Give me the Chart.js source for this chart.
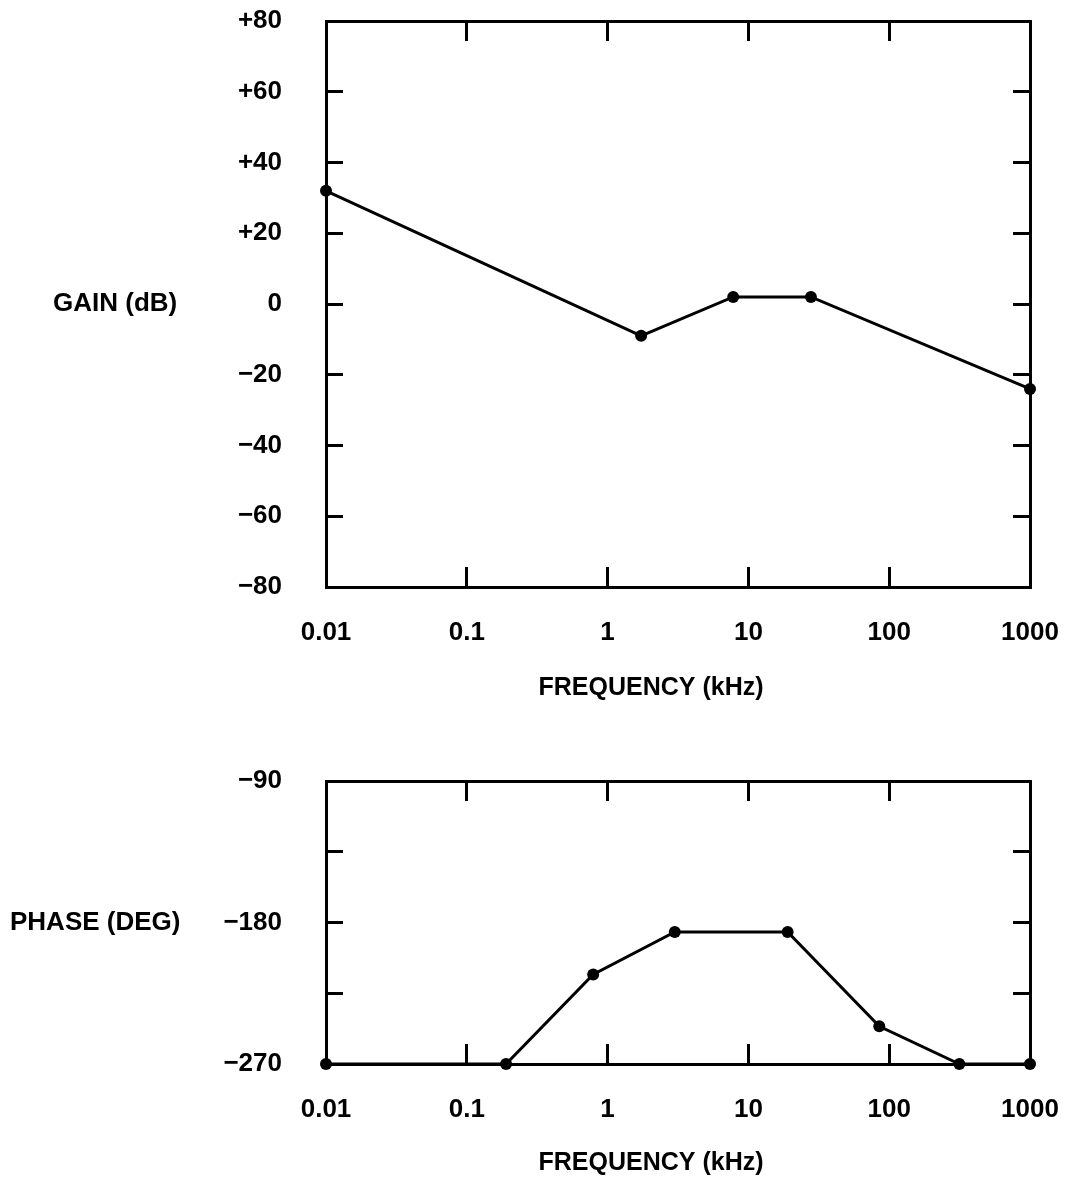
<!DOCTYPE html>
<html>
<head>
<meta charset="utf-8">
<script src="https://cdn.jsdelivr.net/npm/chart.js@4/dist/chart.umd.min.js"></script>
<style>
  html, body { margin: 0; padding: 0; background: #fff; }
  #wrap { position: relative; width: 1077px; height: 1183px; background: #fff; }
  canvas { position: absolute; left: 0; }
  #gainCanvas { top: 0; }
  #phaseCanvas { top: 720px; }
</style>
</head>
<body>
<div id="wrap">
  <canvas id="gainCanvas" width="1077" height="720"></canvas>
  <canvas id="phaseCanvas" width="1077" height="463"></canvas>
</div>
<script>
// Frequency axis (kHz, log decades)
const freqTickValues = [0.01, 0.1, 1, 10, 100, 1000];
const freqTickLabels = ['0.01', '0.1', '1', '10', '100', '1000'];

// Gain response
const gainFreq = [0.01, 1.73, 7.8, 27.8, 1000];
const gainDb = [32, -9, 2, 2, -24];
const gainTickValues = [-80, -60, -40, -20, 0, 20, 40, 60, 80];
const gainTickLabels = ['\u221280', '\u221260', '\u221240', '\u221220', '0', '+20', '+40', '+60', '+80'];

// Phase response
const phaseFreq = [0.01, 0.19, 0.79, 3.0, 19, 85, 315, 1000];
const phaseDeg = [-270, -270, -213, -186, -186, -246, -270, -270];
const phaseTickValues = [-270, -225, -180, -135, -90];
const phaseTickLabels = ['\u2212270', '', '\u2212180', '', '\u221290'];

const FONT = '"Liberation Sans", Arial, Helvetica, sans-serif';
const INK = '#000';

// Horizontal y title on the left and x title under the tick labels
const axisTitles = {
  id: 'axisTitles',
  afterDraw(chart, args, opts) {
    const { ctx, chartArea } = chart;
    ctx.save();
    ctx.fillStyle = INK;
    ctx.textBaseline = 'middle';
    ctx.font = 'bold 26px ' + FONT;
    ctx.textAlign = 'left';
    ctx.fillText(opts.yText, opts.yLeft, (chartArea.top + chartArea.bottom) / 2);
    ctx.font = 'bold 25px ' + FONT;
    ctx.textAlign = 'center';
    ctx.fillText(opts.xText, opts.xCenter, chartArea.bottom + opts.xOffset);
    ctx.restore();
  }
};

function fixedTicks(values) {
  return (scale) => { scale.ticks = values.map(v => ({ value: v })); };
}

function labelFor(values, labels) {
  return (v) => { const i = values.indexOf(v); return i >= 0 ? labels[i] : ''; };
}

// Pin an axis box to a fixed size and drop the label overhang padding
function pinBox(prop, size) {
  return (s) => {
    s[prop] = size;
    s.paddingTop = 0; s.paddingBottom = 0; s.paddingLeft = 0; s.paddingRight = 0;
  };
}

function buildChart(canvasId, cfg) {
  const gridOpts = (len) => ({
    display: true, drawOnChartArea: false, drawTicks: true,
    color: INK, tickColor: INK, lineWidth: 3, tickWidth: 3, tickLength: len
  });
  const borderOpts = { display: true, color: INK, width: 3 };
  const labelFont = { family: FONT, size: 26, weight: 'bold' };

  const xScale = (pos, showLabels, height) => ({
    type: 'logarithmic', position: pos, min: 0.01, max: 1000,
    afterBuildTicks: fixedTicks(freqTickValues),
    afterFit: pinBox('height', height),
    border: borderOpts,
    grid: gridOpts(-20),
    ticks: {
      display: showLabels, autoSkip: false, maxRotation: 0, padding: 50,
      color: INK, font: labelFont,
      callback: labelFor(freqTickValues, freqTickLabels)
    }
  });
  const yScale = (pos, showLabels, width) => ({
    type: 'linear', position: pos, min: cfg.yMin, max: cfg.yMax,
    afterBuildTicks: fixedTicks(cfg.yTicks),
    afterFit: pinBox('width', width),
    border: borderOpts,
    grid: gridOpts(-17),
    ticks: {
      display: showLabels, autoSkip: false, padding: 61,
      color: INK, font: labelFont,
      callback: labelFor(cfg.yTicks, cfg.yLabels)
    }
  });

  return new Chart(document.getElementById(canvasId), {
    type: 'line',
    data: {
      datasets: [{
        data: cfg.xs.map((x, i) => ({ x, y: cfg.ys[i] })),
        borderColor: INK, borderWidth: 3, tension: 0,
        pointRadius: 6, pointBackgroundColor: INK, pointBorderColor: INK, pointBorderWidth: 0,
        clip: false
      }]
    },
    options: {
      responsive: false, animation: false, devicePixelRatio: 1,
      layout: { padding: 0 },
      plugins: {
        legend: { display: false }, tooltip: { enabled: false },
        axisTitles: cfg.titles
      },
      scales: {
        x: xScale('bottom', true, cfg.bottomH),
        x2: Object.assign(xScale('top', false, cfg.topH), { axis: 'x' }),
        y: yScale('left', true, 326),
        y2: Object.assign(yScale('right', false, 47), { axis: 'y' })
      }
    },
    plugins: [axisTitles]
  });
}

buildChart('gainCanvas', {
  xs: gainFreq, ys: gainDb,
  yMin: -80, yMax: 80, yTicks: gainTickValues, yLabels: gainTickLabels,
  topH: 21, bottomH: 133,
  titles: { yText: 'GAIN (dB)', yLeft: 53, xText: 'FREQUENCY (kHz)', xCenter: 651, xOffset: 101 }
});

buildChart('phaseCanvas', {
  xs: phaseFreq, ys: phaseDeg,
  yMin: -270, yMax: -90, yTicks: phaseTickValues, yLabels: phaseTickLabels,
  topH: 61, bottomH: 119,
  titles: { yText: 'PHASE (DEG)', yLeft: 10, xText: 'FREQUENCY (kHz)', xCenter: 651, xOffset: 99 }
});
</script>
</body>
</html>
